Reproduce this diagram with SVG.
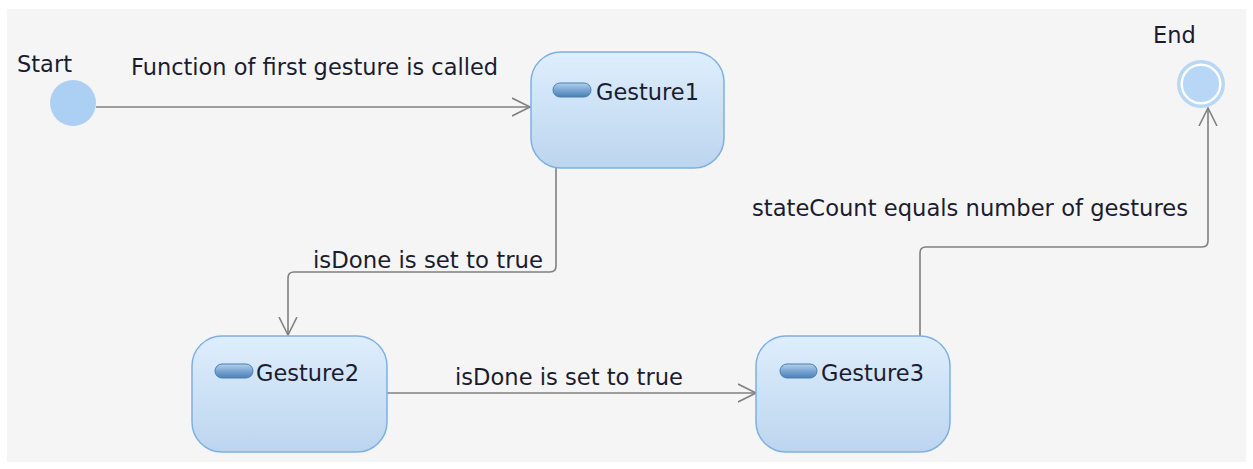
<svg xmlns="http://www.w3.org/2000/svg" width="1253" height="469" viewBox="0 0 1253 469">
  <style>
    .lbl { font-family: "DejaVu Sans", "Liberation Sans", sans-serif; font-size: 22.5px; fill: #1c1c30; }
    .state { fill: url(#stateFill); stroke: #7eb0e2; stroke-width: 1.5; }
    .icon { fill: url(#iconFill); stroke: #4a7fb0; stroke-width: 1; }
    .edge { fill: none; stroke: #808080; stroke-width: 1.6; }
  </style>
  <defs>
    <linearGradient id="stateFill" x1="0" y1="0" x2="0" y2="1">
      <stop offset="0" stop-color="#deeefd"/>
      <stop offset="1" stop-color="#bcd5ee"/>
    </linearGradient>
    <linearGradient id="iconFill" x1="0" y1="0" x2="0" y2="1">
      <stop offset="0" stop-color="#b4d2ee"/>
      <stop offset="0.5" stop-color="#7aa6d2"/>
      <stop offset="1" stop-color="#4a80b6"/>
    </linearGradient>
    <marker id="open" viewBox="0 0 20 20" refX="18" refY="10" markerWidth="20" markerHeight="20" markerUnits="userSpaceOnUse" orient="auto">
      <path d="M0 1 L18 10 L0 19" fill="none" stroke="#808080" stroke-width="1.6"/>
    </marker>
  </defs>

  <rect x="0" y="0" width="1253" height="469" fill="#ffffff"/>
  <rect x="7" y="9" width="1239" height="453" fill="#f5f5f5"/>

  <g id="connectors">
    <path class="edge" d="M96 107 H530" marker-end="url(#open)"/>
    <path class="edge" d="M556 168 V266 Q556 272 550 272 H294 Q288 272 288 278 V335" marker-end="url(#open)"/>
    <path class="edge" d="M387 393 H756" marker-end="url(#open)"/>
    <path class="edge" d="M920 336 V253 Q920 247 926 247 H1202 Q1208 247 1208 241 V108" marker-end="url(#open)"/>
    <text class="lbl" x="131" y="75" textLength="367" lengthAdjust="spacingAndGlyphs">Function of first gesture is called</text>
    <text class="lbl" x="313" y="268" textLength="230" lengthAdjust="spacingAndGlyphs">isDone is set to true</text>
    <text class="lbl" x="455" y="385" textLength="228" lengthAdjust="spacingAndGlyphs">isDone is set to true</text>
    <text class="lbl" x="752" y="216" textLength="436" lengthAdjust="spacingAndGlyphs">stateCount equals number of gestures</text>
  </g>

  <g id="start">
    <circle cx="73" cy="103" r="23" fill="#acd0f4"/>
    <text class="lbl" x="17" y="72">Start</text>
  </g>

  <g id="gesture1">
    <rect class="state" x="531" y="52" width="193" height="116" rx="30"/>
    <rect class="icon" x="553" y="83" width="38" height="14" rx="7"/>
    <text class="lbl" x="596" y="100">Gesture1</text>
  </g>

  <g id="gesture2">
    <rect class="state" x="192" y="336" width="195" height="116" rx="30"/>
    <rect class="icon" x="215" y="364" width="38" height="14" rx="7"/>
    <text class="lbl" x="256" y="381">Gesture2</text>
  </g>

  <g id="gesture3">
    <rect class="state" x="756" y="336" width="194" height="116" rx="30"/>
    <rect class="icon" x="780" y="364" width="37" height="14" rx="7"/>
    <text class="lbl" x="821" y="381">Gesture3</text>
  </g>

  <g id="end">
    <circle cx="1201" cy="84" r="24" fill="#b8d7f6"/>
    <circle cx="1201" cy="84" r="19.3" fill="none" stroke="#ffffff" stroke-width="2.4"/>
    <text class="lbl" x="1153" y="43">End</text>
  </g>
</svg>
